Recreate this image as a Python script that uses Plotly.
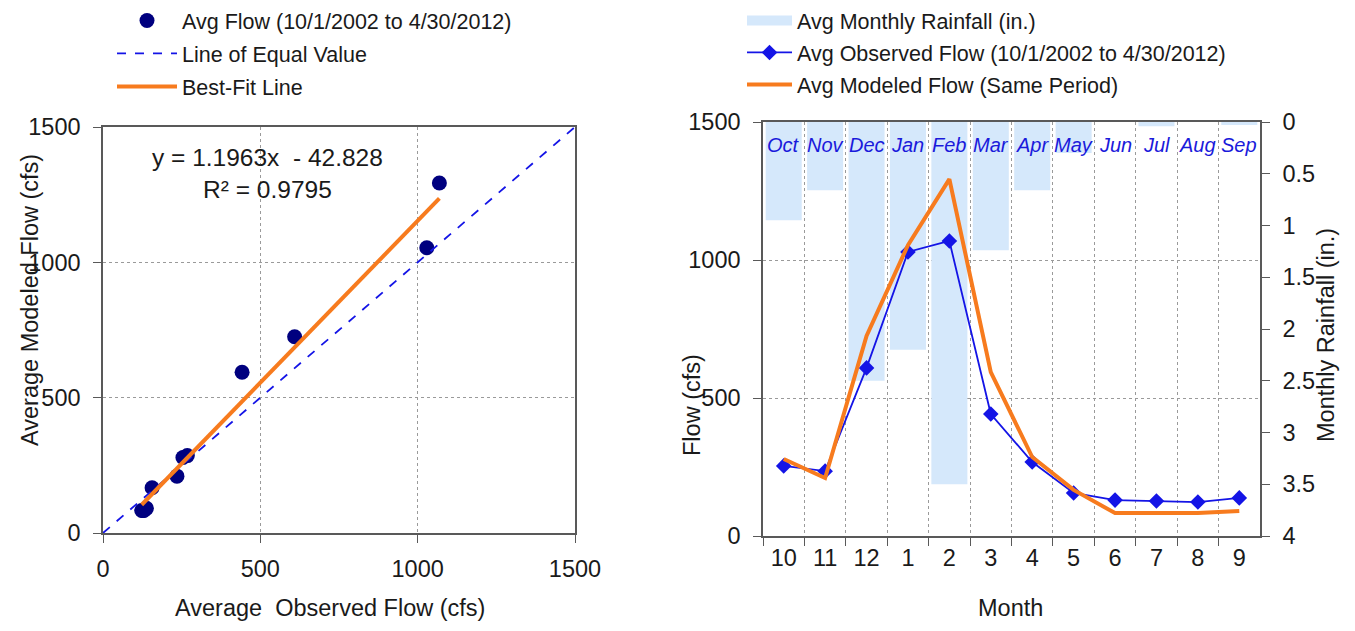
import plotly.graph_objects as go

# ---------------- data ----------------
months = ["10", "11", "12", "1", "2", "3", "4", "5", "6", "7", "8", "9"]
month_names = ["Oct", "Nov", "Dec", "Jan", "Feb", "Mar", "Apr", "May", "Jun", "Jul", "Aug", "Sep"]
observed_flow = [254, 235, 609, 1029, 1069, 442, 268, 156, 130, 127, 123, 138]
modeled_flow = [279, 210, 725, 1054, 1293, 594, 286, 167, 83, 83, 83, 91]
rainfall_in = [0.95, 0.66, 2.50, 2.20, 3.50, 1.24, 0.66, 0.30, 0.0, 0.04, 0.0, 0.03]

fit_slope = 1.1963
fit_intercept = -42.828
fit_r2 = 0.9795
equal_line = [0, 1500]
flow_ticks = [0, 500, 1000, 1500]
rain_ticks = [0, 0.5, 1, 1.5, 2, 2.5, 3, 3.5, 4]

W, H = 1355, 631
FONT = "Liberation Sans, Arial, sans-serif"
TXT = "#1a1a1a"
AX = "#595959"
GRID = "#9a9a9a"
ORANGE = "#f77b1e"
BLUE = "#1414e6"
NAVY = "#00007f"
RAIN = "#d5e8fb"


def px_x(p):
    return p / W


def px_y(p):
    return 1 - p / H


fig = go.Figure()

# ---------------- left chart ----------------
fig.add_trace(go.Scatter(
    x=observed_flow, y=modeled_flow, mode="markers",
    marker=dict(color=NAVY, size=15),
    name="Avg Flow (10/1/2002 to 4/30/2012)",
    xaxis="x", yaxis="y", legend="legend", legendgroup="a"))
fig.add_trace(go.Scatter(
    x=equal_line, y=equal_line, mode="lines",
    line=dict(color=BLUE, width=1.8, dash="dash"),
    name="Line of Equal Value",
    xaxis="x", yaxis="y", legend="legend", legendgroup="b"))
fx = [min(observed_flow), max(observed_flow)]
fy = [fit_slope * v + fit_intercept for v in fx]
fig.add_trace(go.Scatter(
    x=fx, y=fy, mode="lines",
    line=dict(color=ORANGE, width=4),
    name="Best-Fit Line",
    xaxis="x", yaxis="y", legend="legend", legendgroup="c"))

# ---------------- right chart ----------------
fig.add_trace(go.Bar(
    x=months, y=rainfall_in, marker=dict(color=RAIN, line=dict(width=0)),
    name="Avg Monthly Rainfall (in.)", showlegend=False,
    xaxis="x2", yaxis="y2"))
# legend-only swatch for the rainfall bars (wide rectangle like the original)
fig.add_trace(go.Scatter(
    x=[None], y=[None], mode="lines", line=dict(color=RAIN, width=14),
    name="Avg Monthly Rainfall (in.)",
    xaxis="x2", yaxis="y2", legend="legend2", legendgroup="d"))
fig.add_trace(go.Scatter(
    x=months, y=observed_flow, mode="lines+markers",
    line=dict(color=BLUE, width=1.8),
    marker=dict(symbol="diamond", size=12, color=BLUE),
    name="Avg Observed Flow (10/1/2002 to 4/30/2012)",
    xaxis="x2", yaxis="y3", legend="legend2", legendgroup="e"))
fig.add_trace(go.Scatter(
    x=months, y=modeled_flow, mode="lines",
    line=dict(color=ORANGE, width=4),
    name="Avg Modeled Flow (Same Period)",
    xaxis="x2", yaxis="y3", legend="legend2", legendgroup="f"))

tickfont = dict(family=FONT, size=23.5, color=TXT)
common = dict(showline=True, linecolor=AX, linewidth=1.5, ticks="outside",
              ticklen=8, tickcolor=AX, tickfont=tickfont, zeroline=False,
              automargin=False)
grid = dict(showgrid=True, gridcolor=GRID, griddash="dot", gridwidth=1)

L_dom_x = [px_x(103), px_x(575)]
L_dom_y = [px_y(533), px_y(127)]
R_dom_x = [px_x(763), px_x(1260)]
R_dom_y = [px_y(536), px_y(122)]

legfont = dict(family=FONT, size=21.5, color=TXT)
fig.update_layout(
    template="none",
    width=W, height=H,
    margin=dict(l=0, r=0, t=0, b=0, pad=0),
    paper_bgcolor="white", plot_bgcolor="rgba(0,0,0,0)",
    font=dict(family=FONT, color=TXT),
    bargap=0.13,
    xaxis=dict(domain=L_dom_x, range=[0, 1500], tickvals=flow_ticks, anchor="y",
               mirror=True, ticklabelstandoff=6, **grid, **common),
    yaxis=dict(domain=L_dom_y, range=[0, 1500], tickvals=flow_ticks, anchor="x",
               mirror=True, ticklabelstandoff=8, **grid, **common),
    xaxis2=dict(domain=R_dom_x, type="category", categoryorder="array", categoryarray=months,
                range=[-0.5, 11.5], anchor="y2", tickson="boundaries",
                mirror=True, **grid, **common),
    yaxis2=dict(domain=R_dom_y, range=[4, 0], tickvals=rain_ticks, side="right",
                anchor="x2", showgrid=False, ticklabelstandoff=8, **common),
    yaxis3=dict(range=[0, 1500], tickvals=flow_ticks, overlaying="y2", side="left",
                anchor="x2", ticklabelstandoff=8, **grid, **common),
    legend=dict(x=px_x(112), y=1, xanchor="left", yanchor="top",
                font=legfont, bgcolor="rgba(0,0,0,0)",
                itemwidth=60, tracegroupgap=2),
    legend2=dict(x=px_x(742), y=1, xanchor="left", yanchor="top",
                 font=legfont, bgcolor="rgba(0,0,0,0)",
                 itemwidth=45, tracegroupgap=1),
    showlegend=True,
)

ann = []
# regression equation
ann.append(dict(x=px_x(267), y=px_y(173), xref="paper", yref="paper",
                xanchor="center", yanchor="middle",
                text=f"y = {fit_slope:.4f}x  - {abs(fit_intercept):.3f}<br>R² = {fit_r2:.4f}",
                showarrow=False, align="center", font=dict(family=FONT, size=24.5, color=TXT)))
# month names in the right chart
for i, nm in enumerate(month_names):
    ann.append(dict(x=i, y=px_y(145), xref="x2", yref="paper", xanchor="center",
                    yanchor="middle", text=f"<i>{nm}</i>",
                    showarrow=False, font=dict(family=FONT, size=20, color="#1a1adb")))
# axis titles
tfont = dict(family=FONT, size=23.5, color=TXT)
titles = [
    (330, 608, "Average  Observed Flow (cfs)", 0),
    (30, 300, "Average Modeled Flow (cfs)", -90),
    (1010, 608, "Month", 0),
    (692, 405, "Flow (cfs)", -90),
    (1326, 335, "Monthly Rainfall (in.)", -90),
]
for tx, ty, t, ang in titles:
    ann.append(dict(x=px_x(tx), y=px_y(ty), xref="paper", yref="paper",
                    xanchor="center", yanchor="middle", text=t, textangle=ang,
                    showarrow=False, font=tfont))
fig.update_layout(annotations=ann)

# remove the browser's default body margin so the figure fills the window exactly
fig.write_html("out.html", config={"displayModeBar": False},
               post_script="document.body.style.margin='0px';")
